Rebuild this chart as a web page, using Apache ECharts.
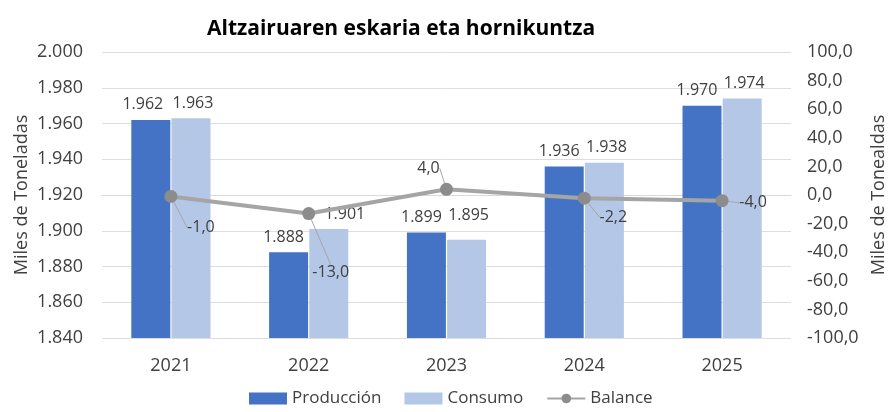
<!DOCTYPE html>
<html>
<head>
<meta charset="utf-8">
<script src="https://cdn.jsdelivr.net/npm/echarts@6/dist/echarts.min.js"></script>
<style>
  html, body { margin: 0; padding: 0; background: #fff; }
  #chart { width: 891px; height: 412px; }
</style>
</head>
<body>
<div id="chart"></div>
<script>
// datos (miles de toneladas)
const years = ['2021', '2022', '2023', '2024', '2025'];
const produccion = [1962, 1888, 1899, 1936, 1970];
const consumo = [1963, 1901, 1895, 1938, 1974];
const balance = [-1.0, -13.0, 4.0, -2.2, -4.0];
// desplazamiento de las etiquetas del balance
const balanceLabelShift = [[30, 31], [22, 59], [-18, -21], [29, 19], [31, 2]];

const font = '"Open Sans", "Noto Sans", sans-serif';
const txt = '#404040';

function miles(v) {
  return Math.round(v).toString().replace(/\B(?=(\d{3})+(?!\d))/g, '.');
}
function decimal(v) {
  return v.toFixed(1).replace('.', ',');
}

const chart = echarts.init(document.getElementById('chart'));

const barLabel = {
  show: true,
  position: 'top',
  distance: 7,
  color: txt,
  fontSize: 16,
  fontFamily: font,
  formatter: p => miles(p.value)
};

chart.setOption({
  animation: false,
  textStyle: { fontFamily: font },
  title: {
    text: 'Altzairuaren eskaria eta hornikuntza',
    left: 202,
    top: 14,
    textStyle: { fontFamily: font, fontWeight: 'bold', fontSize: 21, color: '#000' }
  },
  legend: {
    bottom: 0,
    left: 244,
    itemGap: 23,
    itemWidth: 38,
    itemHeight: 12,
    textStyle: { fontFamily: font, fontSize: 17, color: txt },
    data: [
      { name: 'Producción', icon: 'rect' },
      { name: 'Consumo', icon: 'rect' },
      { name: 'Balance' }
    ]
  },
  grid: { left: 102, right: 100, top: 52, bottom: 74, outerBoundsMode: 'none' },
  xAxis: {
    type: 'category',
    data: years,
    axisLine: { lineStyle: { color: '#d9d9d9' } },
    axisTick: { show: false },
    axisLabel: { color: txt, fontSize: 18, margin: 19, fontFamily: font }
  },
  yAxis: [
    {
      type: 'value',
      min: 1840,
      max: 2000,
      interval: 20,
      name: 'Miles de Toneladas',
      nameLocation: 'middle',
      nameGap: 71,
      nameMoveOverlap: false,
      nameRotate: 90,
      nameTextStyle: { color: txt, fontSize: 18, fontFamily: font },
      axisLabel: { color: txt, fontSize: 18, margin: 19, formatter: miles, fontFamily: font },
      splitLine: { lineStyle: { color: '#dedede', width: 1 } },
      axisLine: { show: false },
      axisTick: { show: false }
    },
    {
      type: 'value',
      min: -100,
      max: 100,
      interval: 20,
      name: 'Miles de Tonealdas',
      nameLocation: 'middle',
      nameGap: 79,
      nameMoveOverlap: false,
      nameRotate: 90,
      nameTextStyle: { color: txt, fontSize: 18, fontFamily: font },
      axisLabel: { color: txt, fontSize: 18, margin: 16, formatter: decimal, fontFamily: font },
      splitLine: { show: false },
      axisLine: { show: false },
      axisTick: { show: false }
    }
  ],
  series: [
    {
      name: 'Producción',
      type: 'bar',
      data: produccion.map((v, i) => i === 0 ? { value: v, label: { offset: [-8, 0] } } : v),
      barWidth: 39,
      barGap: '3%',
      itemStyle: { color: '#4472C4' },
      label: Object.assign({}, barLabel, { offset: [-5, 0] })
    },
    {
      name: 'Consumo',
      type: 'bar',
      data: consumo.map((v, i) => {
        if (i === 1) return { value: v, label: { offset: [16, 0] } };
        if (i === 2) return { value: v, label: { distance: 16 } };
        return v;
      }),
      barWidth: 39,
      itemStyle: { color: '#B4C7E7' },
      label: Object.assign({}, barLabel, { offset: [2, 0] })
    },
    {
      name: 'Balance',
      type: 'line',
      yAxisIndex: 1,
      data: balance,
      symbol: 'circle',
      symbolSize: 13,
      lineStyle: { color: '#A5A5A5', width: 4 },
      itemStyle: { color: '#8C8C8C' },
      z: 5,
      label: {
        show: true,
        position: 'inside',
        color: txt,
        fontSize: 16,
        fontFamily: font,
        formatter: p => decimal(p.value)
      },
      labelLine: { show: true, lineStyle: { color: '#a6a6a6', width: 1 } },
      labelLayout: p => ({
        dx: balanceLabelShift[p.dataIndex][0],
        dy: balanceLabelShift[p.dataIndex][1]
      })
    }
  ]
});
</script>
</body>
</html>
